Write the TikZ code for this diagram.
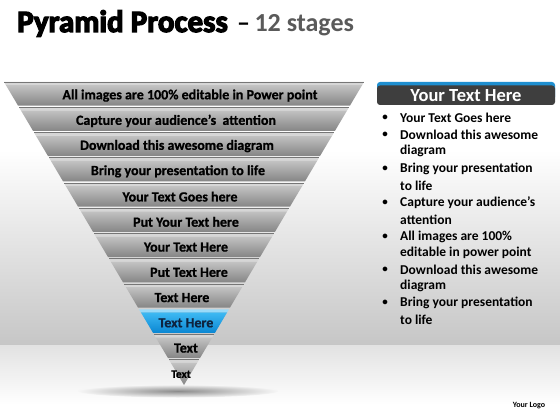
\documentclass[tikz,border=0pt]{standalone}
\usepackage{fontspec}
\setmainfont{Carlito}
\newfontfamily\titlefont{Carlito}[BoldFeatures={FakeBold=4}]
\newfontfamily\bandfont{Carlito}[BoldFeatures={FakeBold=0.8}]
\definecolor{bandtop}{HTML}{D6D6D6}
\definecolor{bandhi}{HTML}{C2C2C2}
\definecolor{bandlo}{HTML}{858585}
\definecolor{bandedge}{HTML}{767676}
\definecolor{bluetop}{HTML}{9ADAF8}
\definecolor{bluehi}{HTML}{3DB9F3}
\definecolor{bluelo}{HTML}{0A86D2}
\definecolor{hdrdark}{HTML}{3E3E3E}
\definecolor{hdrblue}{HTML}{1F8FD0}
\definecolor{titlegray}{HTML}{5A5A5A}
\definecolor{bgwall}{HTML}{C6C6C6}
\definecolor{bgfloor}{HTML}{E2E2E2}
\definecolor{navytext}{HTML}{0E2440}
\tikzset{
  bandtext/.style={text=black, inner sep=0pt},
  listtext/.style={font=\bfseries\fontsize{13.5}{16}\selectfont, text=black, anchor=west, inner sep=0pt},
  bulletmark/.style={font=\bfseries\fontsize{11}{13}\selectfont, text=black, inner sep=0pt},
}
\begin{document}
\begin{tikzpicture}[x=1pt,y=-1pt]
\useasboundingbox (0,0) rectangle (560,420);
% background
\fill[white] (0,0) rectangle (560,420);
\shade[top color=white, bottom color=bgwall] (0,150) rectangle (560,345);
\shade[top color=bgfloor, bottom color=white] (0,345) rectangle (560,405);
\fill[white] (0,405) rectangle (560,420);
% shadow
\shade[inner color=black!45, outer color=bgfloor!30!white] (178,391) ellipse (100 and 6.5);
% title
\node[anchor=base west, inner sep=0pt, font=\titlefont\bfseries\fontsize{31}{34}\selectfont] (title) at (17,32) {Pyramid Process};
\node[anchor=base west, inner sep=0pt, font=\bfseries\fontsize{26}{30}\selectfont] (subtitle) at ([xshift=9pt]title.base east) {–\,\textcolor{titlegray}{12 stages}};
% pyramid bands
\foreach \k/\tx/\txt/\fs in {
  1/190/{All images are 100\% editable in Power point}/14,
  2/176/{Capture your audience’s\ \ attention}/14,
  3/177/{Download this awesome diagram}/14,
  4/178/{Bring your presentation to life}/14,
  5/180/{Your Text Goes here}/14,
  6/186/{Put Your Text here}/14,
  7/186/{Your Text Here}/14,
  8/189/{Put Text Here}/14,
  9/182/{Text Here}/14,
  10/186/{Text Here}/14,
  11/186/{Text}/14,
  12/181/{Text}/11.5}{
  \pgfmathsetmacro{\yt}{82+25.25*(\k-1)}
  \pgfmathsetmacro{\ys}{\yt+3.2}
  \pgfmathsetmacro{\yb}{\k<12 ? \yt+23.6 : 385}
  \pgfmathsetmacro{\xlt}{184-0.594*(385-\yt)}
  \pgfmathsetmacro{\xrt}{184+0.594*(385-\yt)}
  \pgfmathsetmacro{\xls}{184-0.594*(385-\ys)}
  \pgfmathsetmacro{\xrs}{184+0.594*(385-\ys)}
  \pgfmathsetmacro{\xlb}{184-0.594*(385-\yb)}
  \pgfmathsetmacro{\xrb}{184+0.594*(385-\yb)}
  \pgfmathsetmacro{\ym}{(\yt+\yb)/2+1.8}
  \ifnum\k=10
    \fill[bluetop] (\xlt,\yt) -- (\xrt,\yt) -- (\xrs,\ys) -- (\xls,\ys) -- cycle;
    \shade[top color=bluehi, bottom color=bluelo] (\xls,\ys) -- (\xrs,\ys) -- (\xrb,\yb) -- (\xlb,\yb) -- cycle;
    \node[bandtext, text=navytext, font=\bandfont\bfseries\fontsize{\fs}{16}\selectfont] (band\k) at (\tx,\ym) {\txt};
  \else
    \fill[bandtop] (\xlt,\yt) -- (\xrt,\yt) -- (\xrs,\ys) -- (\xls,\ys) -- cycle;
    \draw[bandedge, line width=0.6pt] (\xlt,\yt) -- (\xrt,\yt);
    \shade[top color=bandhi, bottom color=bandlo] (\xls,\ys) -- (\xrs,\ys) -- (\xrb,\yb) -- (\xlb,\yb) -- cycle;
    \node[bandtext, font=\bandfont\bfseries\fontsize{\fs}{16}\selectfont] (band\k) at (\tx,\ym) {\txt};
  \fi
}
% right panel header
\fill[hdrblue, rounded corners=3pt] (377,82) rectangle (555,100);
\fill[hdrdark, rounded corners=3pt] (377,85.5) rectangle (555,105);
\node[inner sep=0pt, text=white, font=\bfseries\fontsize{18.5}{20}\selectfont] (hdr) at (466,95.5) {Your Text Here};
% bullet list
\foreach \i/\y/\t/\b in {
  1/118/{Your Text Goes here}/1,
  2/135/{Download this awesome}/1,
  3/151/{diagram}/0,
  4/169/{Bring your presentation}/1,
  5/185.5/{to life}/0,
  6/203/{Capture your audience’s}/1,
  7/219.5/{attention}/0,
  8/236.5/{All images are 100\%}/1,
  9/253/{editable in power point}/0,
  10/270/{Download this awesome}/1,
  11/286/{diagram}/0,
  12/303/{Bring your presentation}/1,
  13/319.5/{to life}/0}{
  \node[listtext] (line\i) at (400,\y) {\t};
  \ifnum\b=1
    \node[bulletmark] (bul\i) at (385,\y) {•};
  \fi
}
% logo
\node[inner sep=0pt, font=\bfseries\fontsize{8}{9}\selectfont] (logo) at (529,406) {Your Logo};
\end{tikzpicture}
\end{document}
